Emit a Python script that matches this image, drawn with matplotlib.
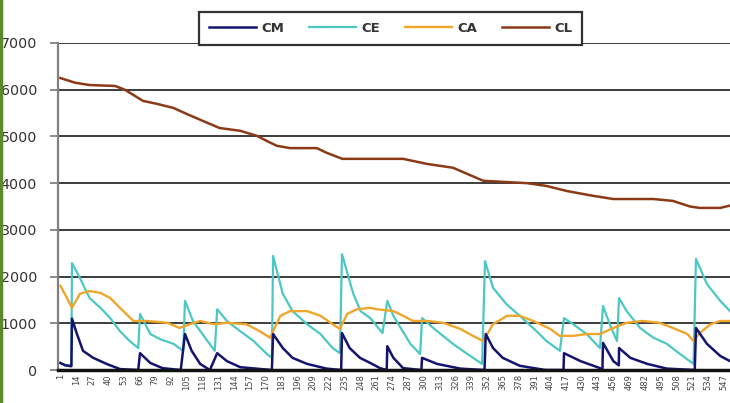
import matplotlib
matplotlib.use('Agg')
import matplotlib.pyplot as plt
from matplotlib.lines import Line2D

# readings per series: x position, value
cm_x = [1, 5, 10, 10.5, 14.6, 19.6, 28, 39, 50, 65, 66.5, 75, 85, 100, 103.5, 109, 116, 124,
        130, 138, 149, 175, 176, 184, 192, 204, 220, 232, 232.7, 239, 247.5, 256, 264, 269.5,
        270, 275, 283, 298, 298.6, 311, 330, 350, 351, 357, 365, 379, 400, 415, 415.4, 429,
        445, 447, 447.5, 456, 460.5, 460.7, 470, 484, 500, 523, 524, 533, 544, 552]
cm_y = [150, 100, 80, 1100, 770, 410, 260, 130, 20, 0, 360, 150, 40, 0, 770, 410, 130, 0,
        360, 190, 60, 0, 770, 470, 260, 130, 30, 0, 790, 470, 260, 150, 40, 0,
        510, 260, 40, 0, 260, 130, 30, 0, 770, 470, 260, 90, 0, 0, 360, 190,
        40, 0, 580, 190, 100, 470, 260, 130, 30, 0, 900, 560, 300, 190]

ce_x = [1, 5, 10, 10.5, 17, 25, 34, 42, 50, 58, 65, 66.5, 75, 83, 94, 102, 103.5, 110, 122,
        128, 130, 138, 149, 160, 171, 175, 176, 184, 192, 204, 215, 225, 231, 232.7, 242,
        248, 256, 258, 266, 270, 275, 281, 289, 297, 298.6, 311, 324, 336, 348, 350.4, 357,
        368, 379, 390, 401, 412, 415.4, 423, 434, 445, 447.5, 453, 459, 460.7, 467, 478,
        489, 500, 511, 522, 524, 533, 544, 552]
ce_y = [150, 100, 100, 2290, 1970, 1540, 1330, 1110, 830, 620, 470, 1200, 770, 660, 560, 410,
        1480, 1050, 620, 410, 1300, 1050, 830, 620, 340, 260, 2440, 1630, 1260, 980, 770,
        470, 360, 2480, 1630, 1260, 1110, 1050, 790, 1480, 1160, 900, 560, 340, 1110, 830,
        560, 340, 130, 2330, 1760, 1410, 1160, 900, 620, 410, 1110, 980, 770, 470, 1370,
        980, 620, 1540, 1260, 900, 690, 560, 340, 130, 2380, 1840, 1480, 1260]

ca_x = [1, 6.4, 10.5, 17, 25, 34, 42, 50, 61, 72, 89, 99, 104, 116, 127, 138, 154, 165,
        173.5, 176, 182, 190, 204, 215, 225, 231, 237, 245, 256, 261.5, 275, 283, 291, 303,
        316, 330, 340.5, 349, 357, 368.5, 379, 390, 404, 412, 423, 434, 445, 456, 467, 480,
        494, 505, 517, 522, 527, 536, 544, 552]
ca_y = [1800, 1540, 1330, 1630, 1690, 1650, 1540, 1330, 1050, 1050, 1010, 900, 950, 1050,
        980, 1010, 980, 830, 690, 830, 1160, 1260, 1260, 1160, 980, 880, 1200, 1300, 1330,
        1300, 1260, 1160, 1050, 1050, 1010, 880, 730, 620, 980, 1160, 1160, 1050, 880, 730,
        730, 770, 770, 900, 1010, 1050, 1010, 900, 770, 620, 790, 980, 1050, 1050]

cl_x = [1, 13, 25, 46, 54, 69, 80, 94, 105, 122, 132, 149, 163, 171, 179, 190, 212, 220,
        233, 256, 283, 303, 324, 349, 385, 401, 418, 439, 456, 489, 505, 519, 527, 544, 552]
cl_y = [6250, 6150, 6100, 6080, 6000, 5760, 5700, 5610, 5480, 5290, 5180, 5120, 5010, 4900,
        4800, 4750, 4750, 4650, 4520, 4520, 4520, 4410, 4330, 4050, 4000, 3940, 3830, 3730,
        3660, 3660, 3620, 3500, 3470, 3470, 3520]

xticks = list(range(1, 553, 13))

fig = plt.figure(figsize=(7.3, 4.03), dpi=100)
ax = fig.add_axes([58 / 730, 33 / 403, 672 / 730, 327 / 403])

ax.plot(cm_x, cm_y, color='#14146e', lw=1.8, label='CM', zorder=5)
ax.plot(ce_x, ce_y, color='#4cc8c4', lw=1.6, label='CE', zorder=3)
ax.plot(ca_x, ca_y, color='#eea62c', lw=1.7, label='CA', zorder=4)
ax.plot(cl_x, cl_y, color='#8c3a16', lw=1.8, label='CL', zorder=4)

ax.set_xlim(-1, 552)
ax.set_ylim(0, 7000)
ax.set_yticks(range(0, 7001, 1000))
ax.set_xticks(xticks)
ax.set_xticklabels([str(v) for v in xticks], rotation=90, fontsize=6, color='#444444')
ax.tick_params(axis='x', length=0, pad=3)
ax.tick_params(axis='y', length=6, width=1.2, color='#777777', pad=9,
               labelsize=10.3, labelcolor='#333333')

ax.yaxis.grid(True, color='#3c3c3c', lw=1.4)
ax.set_axisbelow(True)
for side in ('top', 'right'):
    ax.spines[side].set_visible(False)
ax.spines['left'].set_color('#808080')
ax.spines['left'].set_linewidth(1.6)
ax.spines['bottom'].set_color('#111111')
ax.spines['bottom'].set_linewidth(2.5)
ax.spines['bottom'].set_zorder(6)

leg = ax.legend(loc='center', bbox_to_anchor=(390.5 / 730, 374.5 / 403),
                bbox_transform=fig.transFigure, ncol=4, frameon=True, fancybox=False,
                handlelength=3.6, handletextpad=0.35, columnspacing=1.9,
                prop={'family': 'DejaVu Sans', 'weight': 'bold', 'size': 9.5},
                borderpad=0.75, borderaxespad=0, framealpha=1)
leg.get_frame().set_edgecolor('#333333')
leg.get_frame().set_linewidth(1.6)
for t in leg.get_texts():
    t.set_color('#333333')

# olive border strip on the left edge
fig.add_artist(Line2D([0.002, 0.002], [0, 1], color='#5b8a2c', lw=2.5,
                      transform=fig.transFigure))

fig.savefig('out.png', dpi=100)
